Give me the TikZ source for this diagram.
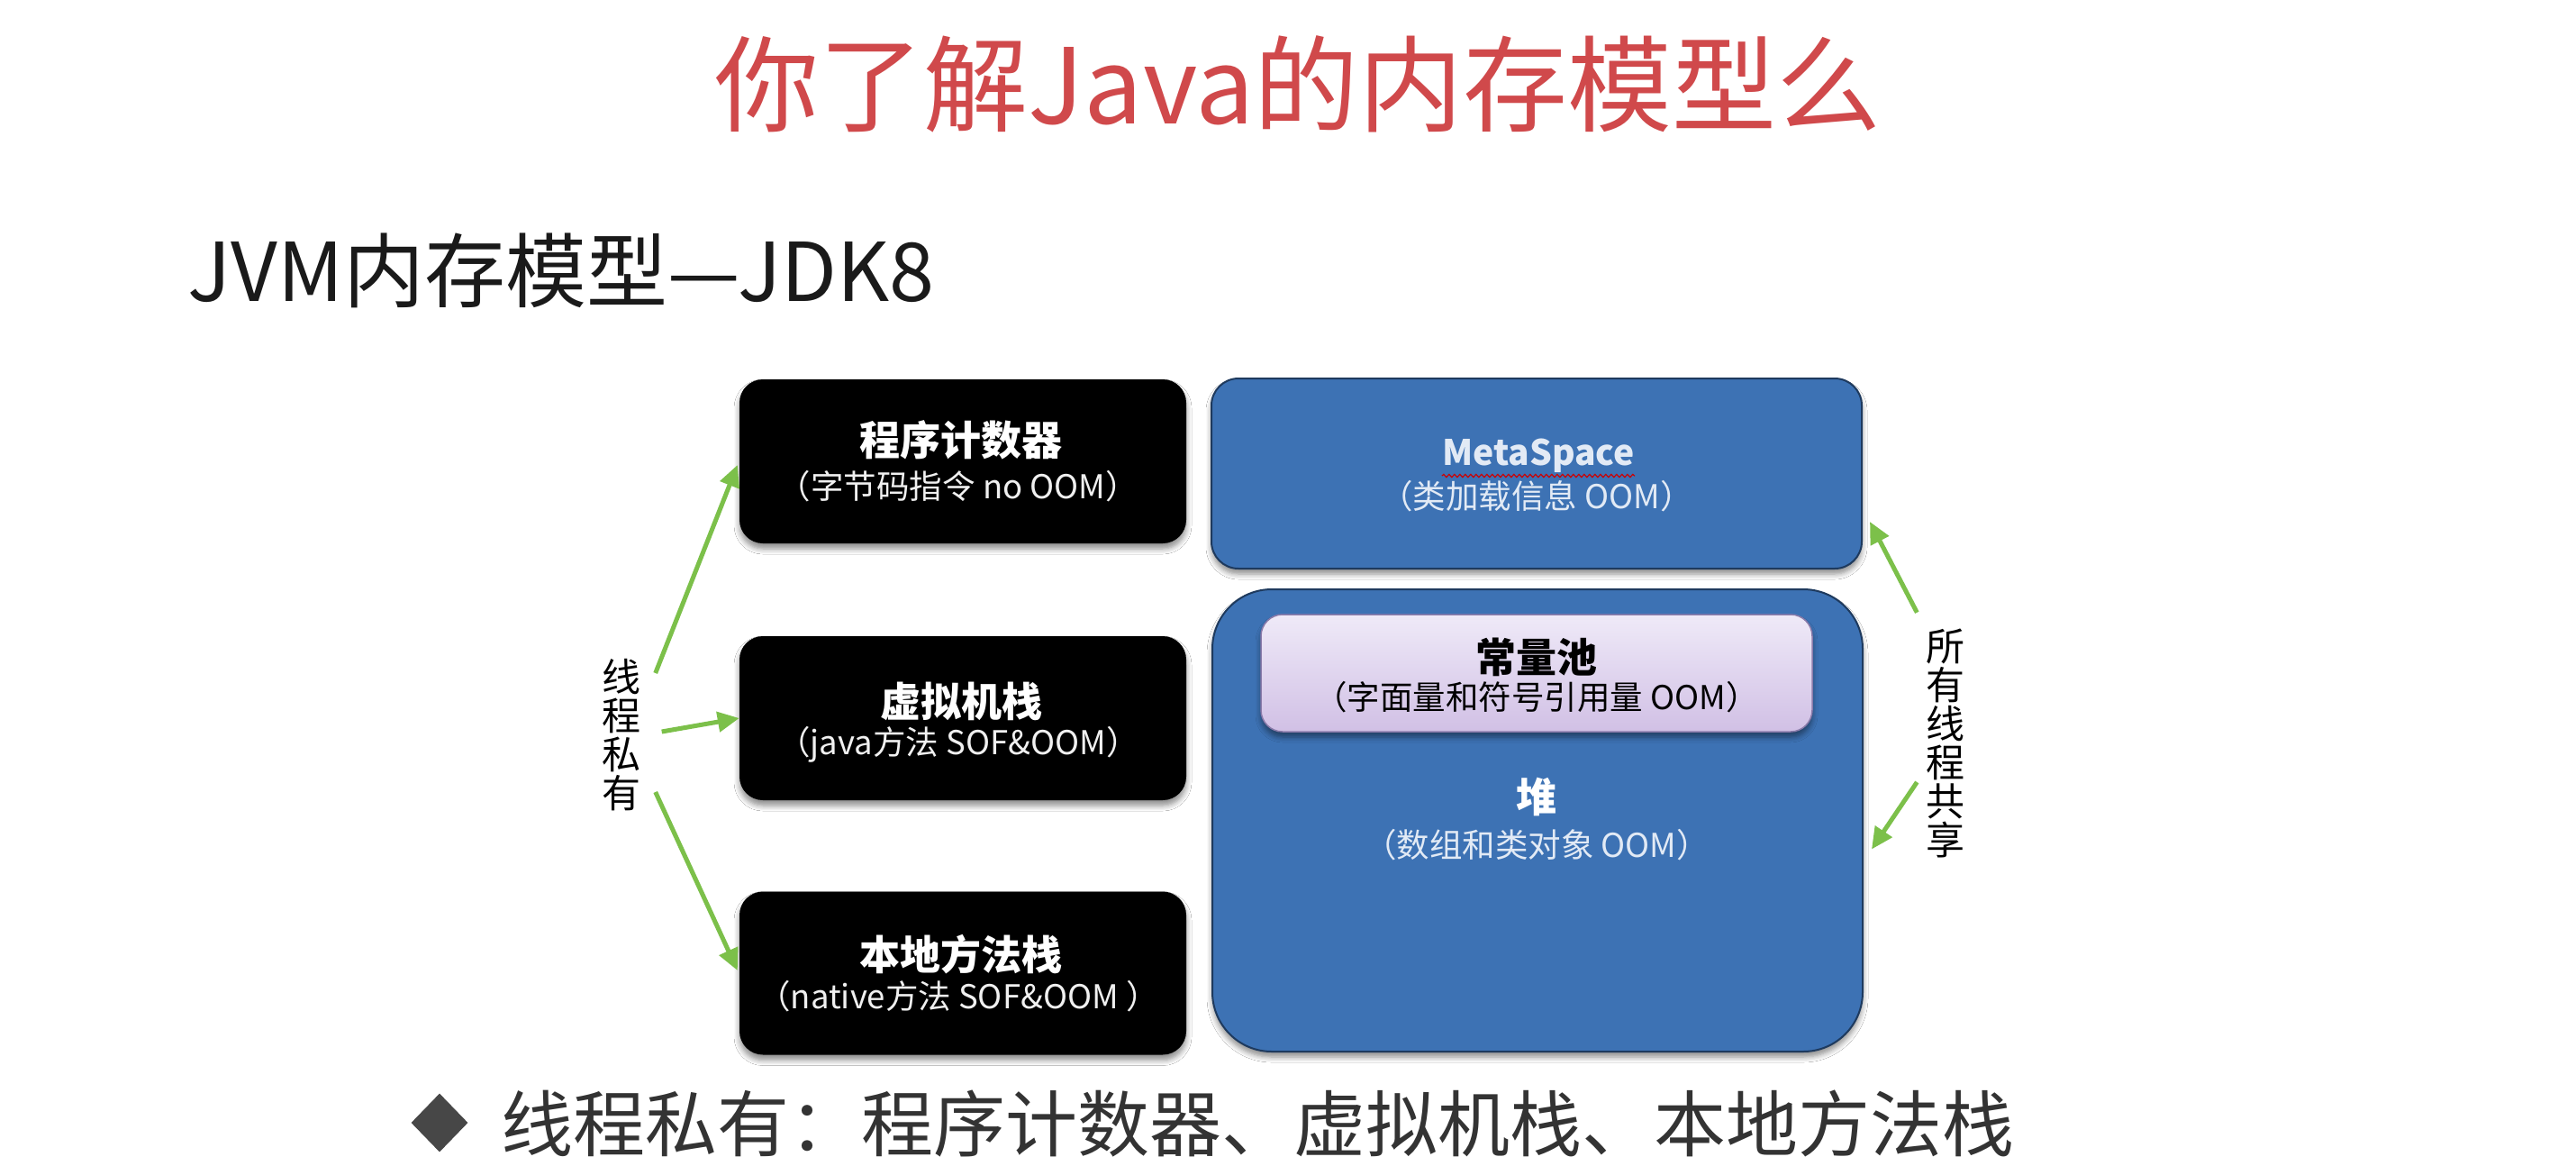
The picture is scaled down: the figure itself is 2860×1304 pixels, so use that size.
\documentclass[tikz,border=0pt]{standalone}
\usepackage{fontspec}
\setmainfont{Noto Sans CJK SC}
\usetikzlibrary{arrows.meta,shadows,shadows.blur,shapes.geometric,decorations.pathmorphing,calc}

\definecolor{slidered}{HTML}{D0494B}
\definecolor{headingink}{HTML}{1A1A1A}
\definecolor{bodyink}{HTML}{333333}
\definecolor{areablue}{HTML}{3D72B4}
\definecolor{areaedge}{HTML}{1E3A5E}
\definecolor{poolTop}{HTML}{EFEAF8}
\definecolor{poolBottom}{HTML}{D1C0E5}
\definecolor{pooledge}{HTML}{8A7BAA}
\definecolor{flowgreen}{HTML}{7CC04A}
\definecolor{paleblue}{HTML}{E2EAF5}

\begin{document}
\begin{tikzpicture}[x=1pt,y=-1pt,
  softshadow/.style={blur shadow={shadow blur steps=6, shadow xshift=0pt, shadow yshift=-6pt, shadow opacity=45, shadow blur radius=6pt}},
  stackbox/.style={rectangle, rounded corners=26pt, fill=black, minimum width=496pt, minimum height=182pt, inner sep=0pt, softshadow},
  areabox/.style={rectangle, fill=areablue, draw=areaedge, line width=2pt, minimum width=722pt, inner sep=0pt, softshadow},
  pooldraw/.style={rectangle, rounded corners=24pt, top color=poolTop, bottom color=poolBottom, draw=pooledge, line width=1.5pt, minimum width=612pt, minimum height=130pt, inner sep=0pt, softshadow},
  boxtitle/.style={font=\fontsize{45}{50}\selectfont\bfseries, text=white, inner sep=0pt},
  boxnote/.style={font=\fontsize{36.5}{40}\selectfont, text=white!94!black, inner sep=0pt},
  sidelabel/.style={font=\fontsize{43}{43}\selectfont, align=center, text=black, inner sep=0pt},
  flow/.style={draw=flowgreen, line width=5pt, -{Triangle[length=24pt,width=22pt]}}
]
\useasboundingbox (0,0) rectangle (2860,1304);
\fill[white] (0,0) rectangle (2860,1304);

% headings
\node[font=\fontsize{116}{120}\selectfont, text=slidered, inner sep=0pt] (title) at (1441,93) {你了解Java的内存模型么};
\node[font=\fontsize{90}{96}\selectfont, text=headingink, anchor=west, inner sep=0pt] (sub) at (208,300) {JVM内存模型—JDK8};

% thread-private areas
\node[stackbox] (b1) at (1069,512) {};
\node[stackbox] (b2) at (1069,797) {};
\node[stackbox, minimum height=181pt] (b3) at (1069,1080) {};

\node[boxtitle] (b1t) at (1067,488) {程序计数器};
\node[boxnote]  (b1s) at (1064,540) {（字节码指令 no OOM）};
\node[boxtitle] (b2t) at (1067,778) {虚拟机栈};
\node[boxnote]  (b2s) at (1064,826) {（java方法 SOF\&OOM）};
\node[boxtitle] (b3t) at (1067,1059) {本地方法栈};
\node[boxnote]  (b3s) at (1064,1106) {（native方法 SOF\&OOM ）};

% shared areas
\node[areabox, rounded corners=30pt, minimum height=211pt] (ms) at (1706,525.5) {};
\node[areabox, rounded corners=66pt, minimum height=513pt] (heap) at (1707,910.5) {};
\node[pooldraw] (pool) at (1706,747) {};

\node[font=\fontsize{39}{44}\selectfont\bfseries, text=paleblue, inner sep=0pt] (mst) at (1708,506) {MetaSpace};
\draw[red!80!black, line width=1.2pt, decorate, decoration={snake, amplitude=1.6pt, segment length=6pt}]
  ([yshift=-3pt]mst.south west) -- ([yshift=-3pt]mst.south east);
\node[boxnote, text=paleblue] (mss) at (1706,551) {（类加载信息 OOM）};

\node[boxtitle, text=black] (poolt) at (1706,729) {常量池};
\node[boxnote, text=black] (pools) at (1706,774) {（字面量和符号引用量 OOM）};

\node[boxtitle] (heapt) at (1706,884) {堆};
\node[boxnote, text=paleblue] (heaps) at (1706,938) {（数组和类对象 OOM）};

% side labels and arrows
\node[sidelabel] (priv) at (690,816) {线\\程\\私\\有};
\node[sidelabel] (shared) at (2160,825) {所\\有\\线\\程\\共\\享};

\draw[flow] ($(priv.east)+(16,-69)$) -- ($(b1.west)+(-2,4)$);
\draw[flow] ($(priv.east)+(23,-4)$) -- (b2.west);
\draw[flow] ($(priv.east)+(16,63)$) -- ($(b3.west)+(-2,-3)$);

\draw[flow] ($(shared.north west)+(-10,-18)$) -- ($(ms.south east)+(8,-53)$);
\draw[flow] ($(shared.west)+(-10,43)$) -- ($(heap.east)+(9,32)$);

% summary line
\node[diamond, aspect=1, fill=bodyink!90, minimum width=63pt, minimum height=65pt, inner sep=0pt] (bullet) at (488,1246) {};
\node[font=\fontsize{80}{86}\selectfont, text=bodyink, anchor=west, inner sep=0pt] (summary) at (556,1247) {线程私有：程序计数器、虚拟机栈、本地方法栈};
\end{tikzpicture}
\end{document}
